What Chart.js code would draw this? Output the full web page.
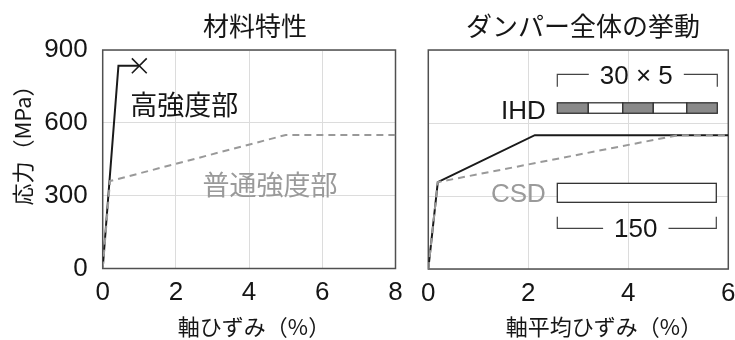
<!DOCTYPE html>
<html>
<head>
<meta charset="utf-8">
<script src="https://cdn.jsdelivr.net/npm/chart.js@4.4.1/dist/chart.umd.min.js"></script>
<style>
  html, body { margin: 0; padding: 0; background: #fff; }
  #wrap { position: relative; width: 735px; height: 340px; overflow: hidden; }
  .panel { position: absolute; top: 0; }
  canvas { display: block; }
</style>
</head>
<body>
<div id="wrap">
  <div class="panel" style="left:0;width:412px;height:340px"><canvas id="material" width="412" height="340"></canvas></div>
  <div class="panel" style="left:412px;width:323px;height:340px"><canvas id="damper" width="323" height="340"></canvas></div>
</div>
<script>
// Material properties: axial strain (%) vs stress (MPa)
const highStrain   = [0, 0.43, 1.0];
const highStress   = [0, 835, 835];
const normalStrain = [0, 0.2, 5.0, 8.0];
const normalStress = [0, 360, 550, 550];

// Whole-damper response: average axial strain (%) vs stress (MPa)
const ihdStrain = [0, 0.19, 2.13, 6.0];
const ihdStress = [0, 357, 550, 550];
const csdStrain = [0, 0.19, 5.0, 6.0];
const csdStress = [0, 357, 550, 550];

// Tick values
const stressTicks      = [0, 300, 600, 900];
const strainTicksLeft  = [0, 2, 4, 6, 8];
const strainTicksRight = [0, 2, 4, 6];

// Segment layout of the IHD core (30 x 5) and its fill pattern
const ihdSegmentEdges = [2.58, 3.20, 3.89, 4.50, 5.17, 5.78];
const ihdSegmentFill  = ['#8a8a8a', '#ffffff', '#8a8a8a', '#ffffff', '#8a8a8a'];

const LATIN = '"Liberation Sans", "Noto Sans CJK JP", sans-serif';
const JP    = '"Noto Sans CJK JP", "Liberation Sans", sans-serif';
const INK   = '#161616';
const GREY  = '#9a9a9a';
const FRAME = '#505050';
const GRID  = '#dcdcdc';

const toPoints = (xs, ys) => xs.map((x, i) => ({ x, y: ys[i] }));

function setTicks(values) {
  return scale => { scale.ticks = values.map(v => ({ value: v })); };
}

// Frame around the plot area plus free text / schematic drawing
const panelDecor = {
  id: 'panelDecor',
  beforeDatasetsDraw(chart) {
    const { ctx, chartArea: a } = chart;
    ctx.save();
    ctx.strokeStyle = FRAME;
    ctx.lineWidth = 1.5;
    ctx.strokeRect(a.left, a.top, a.right - a.left, a.bottom - a.top);
    ctx.restore();
  },
  afterDraw(chart, args, opts) {
    const { ctx } = chart;
    const xs = chart.scales.x, ys = chart.scales.y;
    const px = v => xs.getPixelForValue(v);
    const py = v => ys.getPixelForValue(v);
    ctx.save();
    (opts.texts || []).forEach(t => {
      ctx.save();
      ctx.font = t.font;
      ctx.fillStyle = t.color || INK;
      ctx.textAlign = t.align || 'center';
      ctx.textBaseline = 'middle';
      const x = t.data ? px(t.x) : t.x;
      const y = t.data ? py(t.y) : t.y;
      ctx.translate(x, y);
      if (t.rotate) ctx.rotate(t.rotate);
      ctx.fillText(t.text, 0, 0);
      ctx.restore();
    });
    if (opts.schematic) {
      const s = opts.schematic;
      ctx.strokeStyle = '#333';
      ctx.lineWidth = 1.3;
      // IHD core: alternating segments
      for (let i = 0; i < s.ihdEdges.length - 1; i++) {
        const x0 = px(s.ihdEdges[i]), x1 = px(s.ihdEdges[i + 1]);
        const y0 = py(s.ihdTop), y1 = py(s.ihdBottom);
        ctx.fillStyle = s.ihdFill[i];
        ctx.fillRect(x0, y0, x1 - x0, y1 - y0);
        ctx.strokeRect(x0, y0, x1 - x0, y1 - y0);
      }
      // CSD core: single plain segment
      {
        const x0 = px(s.csdLeft), x1 = px(s.csdRight);
        const y0 = py(s.csdTop), y1 = py(s.csdBottom);
        ctx.fillStyle = '#fff';
        ctx.fillRect(x0, y0, x1 - x0, y1 - y0);
        ctx.strokeRect(x0, y0, x1 - x0, y1 - y0);
      }
      // Dimension brackets
      s.brackets.forEach(b => {
        const x0 = px(b.left), x1 = px(b.right);
        const yl = py(b.line), yt = py(b.tick);
        ctx.font = b.font;
        const xc = px(b.center);
        const half = ctx.measureText(b.text).width / 2 + 11;
        ctx.strokeStyle = '#444';
        ctx.lineWidth = 1.2;
        ctx.beginPath();
        ctx.moveTo(x0, yt); ctx.lineTo(x0, yl); ctx.lineTo(xc - half, yl);
        ctx.moveTo(xc + half, yl); ctx.lineTo(x1, yl); ctx.lineTo(x1, yt);
        ctx.stroke();
        ctx.fillStyle = INK;
        ctx.textAlign = 'center';
        ctx.textBaseline = 'middle';
        ctx.fillText(b.text, xc, py(b.textY));
      });
    }
    ctx.restore();
  }
};

function axisX(min, max, ticks, height) {
  return {
    type: 'linear', min, max,
    afterBuildTicks: setTicks(ticks),
    afterFit: s => { s.height = height; s.paddingLeft = 0; s.paddingRight = 0; },
    ticks: { color: INK, font: { family: LATIN, size: 26 }, padding: 9, maxRotation: 0 },
    grid: { color: GRID, lineWidth: 1, drawTicks: false },
    border: { display: false }
  };
}

function axisY(width, showLabels) {
  return {
    type: 'linear', min: 0, max: 900,
    afterBuildTicks: setTicks(stressTicks),
    afterFit: s => { s.width = width; s.paddingTop = 0; s.paddingBottom = 0; },
    ticks: { display: showLabels, color: INK, font: { family: LATIN, size: 26 }, padding: 15 },
    grid: { color: GRID, lineWidth: 1, drawTicks: false },
    border: { display: false }
  };
}

const baseOptions = {
  responsive: false,
  animation: false,
  devicePixelRatio: 1,
  events: [],
  plugins: { legend: { display: false }, tooltip: { enabled: false } }
};

// Left panel: material properties
new Chart(document.getElementById('material'), {
  type: 'line',
  data: {
    datasets: [
      {
        label: '普通強度部',
        data: toPoints(normalStrain, normalStress),
        borderColor: '#999999', borderWidth: 2, borderDash: [7, 5],
        pointRadius: 0, tension: 0, fill: false
      },
      {
        label: '高強度部',
        data: toPoints(highStrain, highStress),
        borderColor: '#1a1a1a', borderWidth: 2,
        pointStyle: 'crossRot',
        pointRadius: highStrain.map((v, i) => i === highStrain.length - 1 ? 10.5 : 0),
        pointBorderColor: '#1a1a1a', pointBorderWidth: 1.6,
        tension: 0, fill: false
      }
    ]
  },
  options: {
    ...baseOptions,
    layout: { padding: { left: 0, top: 50, right: 16.5, bottom: 0 } },
    scales: {
      x: axisX(0, 8, strainTicksLeft, 71.5),
      y: axisY(102.7, true)
    },
    plugins: {
      ...baseOptions.plugins,
      panelDecor: {
        texts: [
          { text: '材料特性', x: 255, y: 26, font: `26px ${JP}` },
          { text: '軸ひずみ（%）', x: 254, y: 327, font: `22px ${JP}` },
          { text: '応力（MPa）', x: 23, y: 140, font: `22px ${JP}`, rotate: -Math.PI / 2 },
          { text: '高強度部', x: 2.23, y: 673, data: true, font: `27px ${JP}` },
          { text: '普通強度部', x: 4.57, y: 344, data: true, font: `27px ${JP}`, color: GREY }
        ]
      }
    }
  },
  plugins: [panelDecor]
});

// Right panel: whole damper behaviour
new Chart(document.getElementById('damper'), {
  type: 'line',
  data: {
    datasets: [
      {
        label: 'CSD',
        data: toPoints(csdStrain, csdStress),
        borderColor: '#999999', borderWidth: 2, borderDash: [7, 5],
        pointRadius: 0, tension: 0, fill: false
      },
      {
        label: 'IHD',
        data: toPoints(ihdStrain, ihdStress),
        borderColor: '#1a1a1a', borderWidth: 2,
        pointRadius: 0, tension: 0, fill: false
      }
    ]
  },
  options: {
    ...baseOptions,
    layout: { padding: { left: 0, top: 50, right: 6.7, bottom: 0 } },
    scales: {
      x: axisX(0, 6, strainTicksRight, 71),
      y: axisY(16.3, false)
    },
    plugins: {
      ...baseOptions.plugins,
      panelDecor: {
        texts: [
          { text: 'ダンパー全体の挙動', x: 171, y: 26, font: `26px ${JP}` },
          { text: '軸平均ひずみ（%）', x: 192, y: 327, font: `22px ${JP}` },
          { text: 'IHD', x: 2.35, y: 645, data: true, align: 'right', font: `26px ${LATIN}` },
          { text: 'CSD', x: 2.35, y: 304, data: true, align: 'right', font: `26px ${LATIN}`, color: GREY }
        ],
        schematic: {
          ihdEdges: ihdSegmentEdges, ihdFill: ihdSegmentFill, ihdTop: 683, ihdBottom: 640,
          csdLeft: 2.58, csdRight: 5.76, csdTop: 352, csdBottom: 274,
          brackets: [
            { text: '30 × 5', left: 2.58, right: 5.78, line: 800, tick: 749, center: 4.16, textY: 790, font: `26px ${LATIN}` },
            { text: '150', left: 2.58, right: 5.76, line: 167, tick: 215, center: 4.15, textY: 160, font: `26px ${LATIN}` }
          ]
        }
      }
    }
  },
  plugins: [panelDecor]
});
</script>
</body>
</html>
